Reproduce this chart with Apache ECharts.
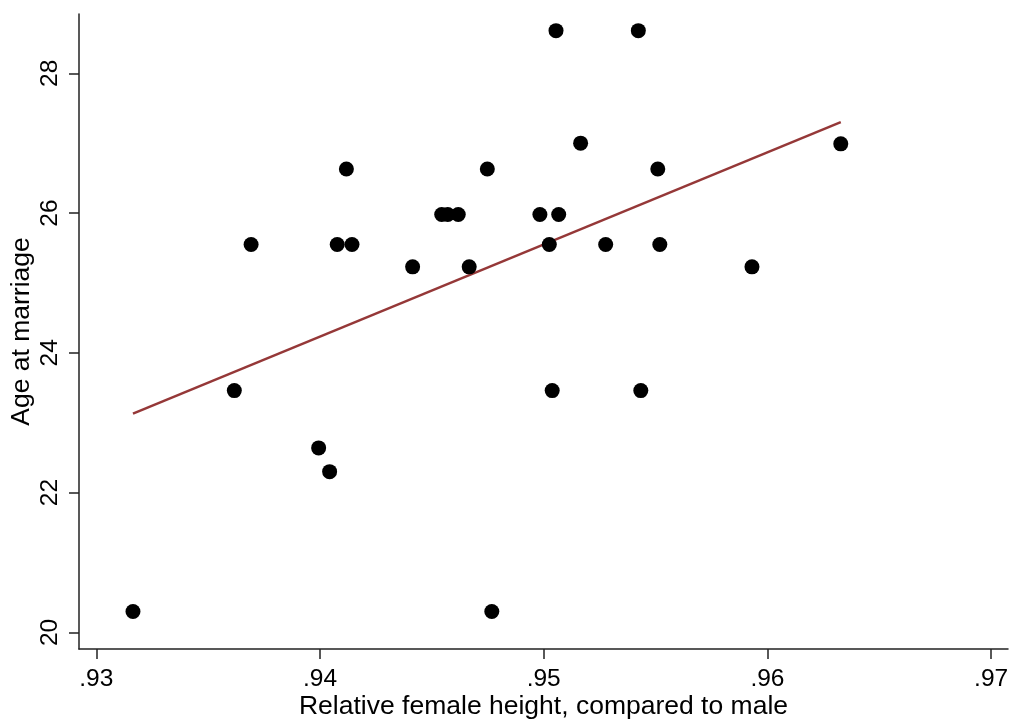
<!DOCTYPE html>
<html>
<head>
<meta charset="utf-8">
<script src="https://cdn.jsdelivr.net/npm/echarts@6/dist/echarts.min.js"></script>
<style>html,body{margin:0;padding:0;background:#fff}#c{width:1013px;height:722px}</style>
</head>
<body>
<div id="c"></div>
<script>
const relHeight = [0.93164,0.93617,0.93692,0.93994,0.94043,0.94077,0.94118,0.94143,0.94414,0.94544,0.94571,0.94618,0.94667,0.94748,0.94768,0.94983,0.95025,0.95038,0.95055,0.95067,0.95165,0.95277,0.95423,0.95434,0.9551,0.95519,0.95931,0.96328];
const ageMarriage = [20.30,23.46,25.55,22.64,22.30,25.55,26.63,25.55,25.23,25.98,25.98,25.98,25.23,26.63,20.30,25.98,25.55,23.46,28.61,25.98,27.00,25.55,28.61,23.46,26.63,25.55,25.23,26.99];
const fitX = [0.93164, 0.96328];
const fitY = [23.13, 27.30];
const xTicks = [0.93,0.94,0.95,0.96,0.97];
const yTicks = [20,22,24,26,28];

const font = '"Liberation Sans", Arial, Helvetica, sans-serif';
const chart = echarts.init(document.getElementById('c'), null, {renderer:'canvas'});
chart.setOption({
  animation:false,
  backgroundColor:'#fff',
  grid:{left:79,right:5,top:14,bottom:73,containLabel:false,outerBoundsMode:'none'},
  xAxis:{
    type:'value', min:0.929227, max:0.970755,
    name:'Relative female height, compared to male',
    nameLocation:'middle', nameGap:44, nameMoveOverlap:false,
    nameTextStyle:{fontFamily:font,fontSize:26.5,color:'#000'},
    axisLine:{show:true,onZero:false,lineStyle:{color:'#222',width:1.5}},
    axisTick:{show:true,customValues:xTicks,length:10,lineStyle:{color:'#222',width:1.5}},
    axisLabel:{customValues:xTicks,fontFamily:font,fontSize:24.5,color:'#000',margin:18,
      formatter:v=>v.toFixed(2).replace(/^0/,'')},
    splitLine:{show:false}
  },
  yAxis:{
    type:'value', min:19.7625, max:28.848,
    name:'Age at marriage',
    nameLocation:'middle', nameGap:44, nameMoveOverlap:false,
    nameTextStyle:{fontFamily:font,fontSize:26.5,color:'#000'},
    axisLine:{show:true,onZero:false,lineStyle:{color:'#222',width:1.5}},
    axisTick:{show:true,customValues:yTicks,length:10,lineStyle:{color:'#222',width:1.5}},
    axisLabel:{customValues:yTicks,fontFamily:font,fontSize:24.5,color:'#000',margin:16,rotate:90,
      formatter:v=>String(Math.round(v))},
    splitLine:{show:false}
  },
  series:[
    {type:'scatter',data:relHeight.map((x,i)=>[x,ageMarriage[i]]),symbol:'circle',symbolSize:15,
     itemStyle:{color:'#000',opacity:1},z:3},
    {type:'line',data:fitX.map((x,i)=>[x,fitY[i]]),symbol:'none',
     lineStyle:{color:'#953838',width:2.5},z:2}
  ]
});
</script>
</body>
</html>
